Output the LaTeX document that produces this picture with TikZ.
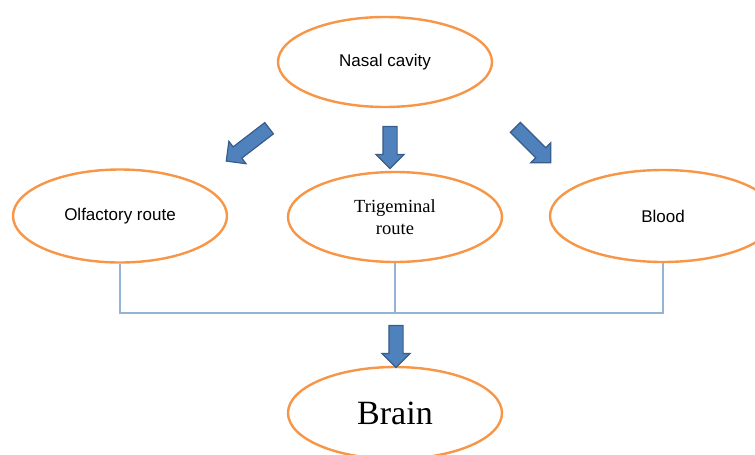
\documentclass[tikz,border=0pt]{standalone}
\usepackage{fontspec}
\setmainfont{Liberation Serif}
\setsansfont{Liberation Sans}
\usetikzlibrary{shapes.geometric,shapes.arrows}
\definecolor{routeorange}{HTML}{F79646}
\definecolor{arrowblue}{HTML}{4F81BD}
\definecolor{arrowedge}{HTML}{385D8A}
\definecolor{linkblue}{HTML}{95B3D7}

\begin{document}
\begin{tikzpicture}[x=1pt, y=-1pt,
        route/.style={ellipse, draw=routeorange, line width=2.4pt, fill=white,
            inner sep=0pt, minimum width=214pt, minimum height=90pt, align=center},
        blockarrow/.style={single arrow, draw=arrowedge, fill=arrowblue,
            line width=1.2pt, inner xsep=0pt, inner ysep=6.5pt,
            single arrow head extend=7pt},
        link/.style={draw=linkblue, line width=1.1pt}]
        \useasboundingbox (0,0) rectangle (755,455);

        % ellipses
        \node[route, font=\sffamily\fontsize{17}{20}\selectfont] (nasal) at (385,62) {Nasal cavity};
        \node[route, minimum height=93pt, font=\sffamily\fontsize{17}{20}\selectfont] (olf) at (120,216) {Olfactory route};
        \node[route, font=\fontsize{18.5}{22}\selectfont] (trig) at (395,217) {Trigeminal\\route};
        \node[route, minimum width=226pt, minimum height=92pt, font=\sffamily\fontsize{17}{20}\selectfont] (blood) at (663,216) {Blood};
        \node[route, minimum height=92pt, font=\fontsize{34}{40}\selectfont] (brain) at (395,413) {Brain};

        % links to the brain
        \coordinate (junc) at (395,313);
        \draw[link] (olf.south) -- (olf.south |- junc) -- (blood.south |- junc) -- (blood.south);
        \draw[link] (trig.south) -- (junc);

        % block arrows
        \node[blockarrow, minimum height=54pt, rotate=-142.5] (toolf) at (250.5,142.5) {};
        \node[blockarrow, minimum height=42pt, rotate=-90] (totrig) at (390,144) {};
        \node[blockarrow, minimum height=50pt, rotate=-45] (toblood) at (530.5,142.5) {};
        \node[blockarrow, minimum height=42pt, rotate=-90] (tobrain) at (396,343) {};

    \end{tikzpicture}
\end{document}
